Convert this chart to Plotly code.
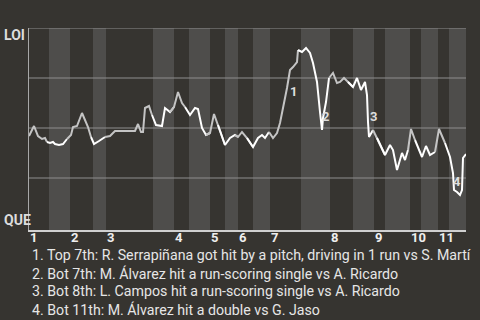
import plotly.graph_objects as go

# Half-inning boundaries (game-progress units)
half_bounds = [0, 20, 41, 64, 77, 124, 145, 160, 181, 196, 209, 224, 241,
               272, 301, 324, 345, 356, 381, 392, 409, 420, 437]
inning_labels = ["1", "2", "3", "4", "5", "6", "7", "8", "9", "10", "11"]

# Win-probability line (progress, probability)
prog = [0, 5, 9, 13, 16, 18, 21, 24, 26, 30, 34, 38, 42, 44, 48, 53, 56, 59, 62, 65,
        70, 76, 81, 84, 86, 106, 109, 112, 114, 116, 120, 123, 127, 133, 136, 141, 145,
        149, 153, 156, 161, 166, 169, 173, 177, 181, 185, 189, 196, 201, 206, 209, 213,
        218, 224, 229, 233, 236, 240, 244, 248, 251, 258, 261, 264, 268, 269, 273, 277,
        281, 284, 288, 291, 293, 294, 297, 300, 304, 308, 311, 315, 319, 324, 328, 332,
        336, 338, 339, 340, 344, 348, 356, 361, 364, 368, 373, 376, 379, 382, 386, 393,
        397, 401, 406, 410, 416, 421, 424, 425, 428, 431, 433, 434, 437]
wp = [0.46, 0.51, 0.46, 0.445, 0.45, 0.43, 0.425, 0.43, 0.42, 0.415, 0.42, 0.445, 0.465,
      0.505, 0.51, 0.575, 0.54, 0.505, 0.455, 0.42, 0.435, 0.455, 0.46, 0.475, 0.485,
      0.485, 0.52, 0.48, 0.48, 0.60, 0.61, 0.565, 0.515, 0.51, 0.60, 0.58, 0.605, 0.68,
      0.625, 0.605, 0.565, 0.60, 0.595, 0.50, 0.465, 0.475, 0.57, 0.515, 0.415, 0.45,
      0.465, 0.455, 0.48, 0.45, 0.405, 0.45, 0.465, 0.45, 0.48, 0.45, 0.475, 0.525, 0.70,
      0.79, 0.805, 0.83, 0.89, 0.88, 0.90, 0.875, 0.825, 0.73, 0.58, 0.49, 0.55, 0.63,
      0.75, 0.775, 0.725, 0.73, 0.75, 0.73, 0.705, 0.75, 0.69, 0.73, 0.665, 0.53, 0.455,
      0.49, 0.45, 0.365, 0.415, 0.39, 0.29, 0.375, 0.34, 0.39, 0.495, 0.44, 0.355, 0.41,
      0.365, 0.38, 0.495, 0.425, 0.355, 0.275, 0.19, 0.18, 0.165, 0.19, 0.35, 0.37]

# Key plays: label, progress, probability of label
key_labels = ["1", "2", "3", "4"]
key_prog = [264, 296, 344, 428]
key_wp = [0.685, 0.56, 0.56, 0.235]
notes = [
    "1. Top 7th: R. Serrapiñana got hit by a pitch, driving in 1 run vs S. Martí",
    "2. Bot 7th: M. Álvarez hit a run-scoring single vs A. Ricardo",
    "3. Bot 8th: L. Campos hit a run-scoring single vs A. Ricardo",
    "4. Bot 11th: M. Álvarez hit a double vs G. Jaso",
]
grid_levels = [0.25, 0.5, 0.75, 1.0]

DARK = "#363430"
LIGHT = "#4e4d4b"
FONT = "Roboto"
PLOT_LEFT, PLOT_W = 29, 437
PLOT_TOP, PLOT_H = 28, 202

fig = go.Figure()

# line split by half inning (top halves grey, bottom halves white)
for h in range(len(half_bounds) - 1):
    lo, hi = half_bounds[h], half_bounds[h + 1]
    idx = [i for i, p in enumerate(prog) if lo <= p <= hi]
    if not idx:
        continue
    if idx[0] > 0:
        idx = [idx[0] - 1] + idx
    xs = [prog[i] for i in idx]
    ys = [wp[i] for i in idx]
    fig.add_trace(go.Scatter(
        x=xs, y=ys, mode="lines",
        line=dict(color="#c4c4c4" if h % 2 == 0 else "#ffffff", width=2),
        hoverinfo="skip", showlegend=False))

# bands for bottom halves
shapes = []
for h in range(1, len(half_bounds) - 1, 2):
    shapes.append(dict(type="rect", xref="x", yref="paper",
                       x0=half_bounds[h], x1=half_bounds[h + 1], y0=0, y1=1,
                       fillcolor=LIGHT, line=dict(width=0), layer="below"))
# horizontal grid lines
for g in grid_levels:
    shapes.append(dict(type="line", xref="paper", yref="y", x0=0, x1=1, y0=g, y1=g,
                       line=dict(color="#8e8e8e", width=1), layer="below"))

annotations = []
for lab, xp, yp in zip(key_labels, key_prog, key_wp):
    annotations.append(dict(x=xp, y=yp, xref="x", yref="y", text="<b>%s</b>" % lab,
                            showarrow=False, font=dict(family=FONT, size=13, color="#dddddd")))

annotations.append(dict(x=-27 / PLOT_W, y=(PLOT_TOP + PLOT_H - 35) / PLOT_H, xref="paper", yref="paper",
                        text="<b>LOI</b>", showarrow=False, xanchor="left", yanchor="middle",
                        font=dict(family=FONT, size=14, color="#dddddd")))
annotations.append(dict(x=-27 / PLOT_W, y=(PLOT_TOP + PLOT_H - 220) / PLOT_H, xref="paper", yref="paper",
                        text="<b>QUE</b>", showarrow=False, xanchor="left", yanchor="middle",
                        font=dict(family=FONT, size=14, color="#dddddd")))

for k, txt in enumerate(notes):
    py = 255 + 18 * k
    annotations.append(dict(x=1 / PLOT_W, y=(PLOT_TOP + PLOT_H - py) / PLOT_H, xref="paper", yref="paper",
                            text=txt, showarrow=False, xanchor="left", yanchor="middle",
                            font=dict(family=FONT, size=14.2, color="#e6e6e6")))

fig.update_layout(
    width=480, height=320,
    margin=dict(l=PLOT_LEFT, r=480 - PLOT_LEFT - PLOT_W, t=PLOT_TOP, b=320 - PLOT_TOP - PLOT_H),
    paper_bgcolor=DARK, plot_bgcolor=DARK,
    shapes=shapes, annotations=annotations,
    xaxis=dict(range=[0, 437], showgrid=False, zeroline=False,
               tickvals=[half_bounds[i] for i in range(0, 22, 2)],
               ticktext=["<b>%s</b>" % s for s in inning_labels],
               ticklabelposition="outside right", ticks="", ticklabelstandoff=-6,
               tickfont=dict(family=FONT, size=13, color="#eeeeee"),
               showline=True, linecolor="#d0d0d0", linewidth=2),
    yaxis=dict(range=[-0.01, 1], showticklabels=False, showgrid=False, zeroline=False,
               showline=True, linecolor="#a8a8a8", linewidth=1, ticks=""),
)

fig.write_html("out.html")
